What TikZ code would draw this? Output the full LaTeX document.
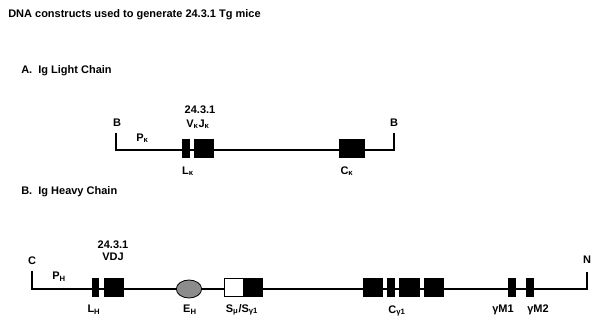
\documentclass[tikz,border=0pt]{standalone}
\usepackage{fontspec}
\setmainfont{Liberation Sans}
\usetikzlibrary{shapes.geometric}
\begin{document}
\begin{tikzpicture}[x=0.75pt,y=-0.75pt,
  lbl/.style={font=\bfseries\fontsize{8.25}{9}\selectfont, inner sep=0pt},
  exon/.style={rectangle, fill=black, draw=black, line width=0.4pt, inner sep=0pt, minimum height=13.5pt},
  dna/.style={line width=2.1pt, line join=miter}]
\useasboundingbox (0,0) rectangle (600,316);
% titles
\node[lbl, anchor=west] (title) at (8,15) {DNA constructs used to generate 24.3.1 Tg mice};
\node[lbl, anchor=west] (secA) at (21,71) {A.\ \ Ig Light Chain};
\node[lbl, anchor=west] (secB) at (21,192) {B.\ \ Ig Heavy Chain};

% ---- light chain ----
\coordinate (a1) at (116,133);
\coordinate (a2) at (116,150);
\coordinate (a3) at (394,150);
\coordinate (a4) at (394,133);
\draw[dna] (a1) -- (a2) -- (a3) -- (a4);
\node[exon, minimum width=5pt] (Lk) at (185.5,148) {};
\node[exon, minimum width=14pt] (VJk) at (203.5,148) {};
\node[exon, minimum width=18.5pt] (Ck) at (351.5,148) {};
\node[lbl] (Bl) at (117,123) {B};
\node[lbl] (Br) at (394,123) {B};
\node[lbl, anchor=west] (Pk) at (136,138) {P\textsubscript{κ}};
\node[lbl] (idA) at (200,110) {24.3.1};
\node[lbl] (VJlab) at (198,124) {V\textsubscript{κ}J\textsubscript{κ}};
\node[lbl] (Lklab) at (188,171) {L\textsubscript{κ}};
\node[lbl] (Cklab) at (347,171) {C\textsubscript{κ}};

% ---- heavy chain ----
\coordinate (b1) at (32,271);
\coordinate (b2) at (32,289);
\coordinate (b3) at (587,289);
\coordinate (b4) at (587,272);
\draw[dna] (b1) -- (b2) -- (b3) -- (b4);
\node[exon, minimum width=4.5pt] (LH) at (95,287) {};
\node[exon, minimum width=14pt] (VDJ) at (113.5,287) {};
\node[ellipse, fill=black!45, draw=black, line width=0.6pt, inner sep=0pt, minimum width=19pt, minimum height=13.5pt] (EH) at (189,289) {};
\node[exon, fill=white, minimum width=14pt] (Sw) at (233.5,287) {};
\node[exon, minimum width=14pt] (Sb) at (252.5,287) {};
\node[exon, minimum width=14pt] (C1) at (372.5,287) {};
\node[exon, minimum width=5pt] (C2) at (390.5,287) {};
\node[exon, minimum width=15pt] (C3) at (409,287) {};
\node[exon, minimum width=14pt] (C4) at (433.5,287) {};
\node[exon, minimum width=5pt] (M1) at (511.5,287) {};
\node[exon, minimum width=5pt] (M2) at (529.5,287) {};
\node[lbl] (Clab) at (32,261) {C};
\node[lbl] (Nlab) at (587,260) {N};
\node[lbl, anchor=west] (PH) at (52,277) {P\textsubscript{H}};
\node[lbl] (idB) at (113,245) {24.3.1};
\node[lbl] (VDJlab) at (113,257) {VDJ};
\node[lbl] (LHlab) at (94,310) {L\textsubscript{H}};
\node[lbl] (EHlab) at (190,310) {E\textsubscript{H}};
\node[lbl] (Slab) at (242,310) {S\textsubscript{μ}/S\textsubscript{γ1}};
\node[lbl] (Clabg) at (397,311) {C\textsubscript{γ1}};
\node[lbl] (M1lab) at (503,310) {γM1};
\node[lbl] (M2lab) at (538,310) {γM2};
\end{tikzpicture}
\end{document}
